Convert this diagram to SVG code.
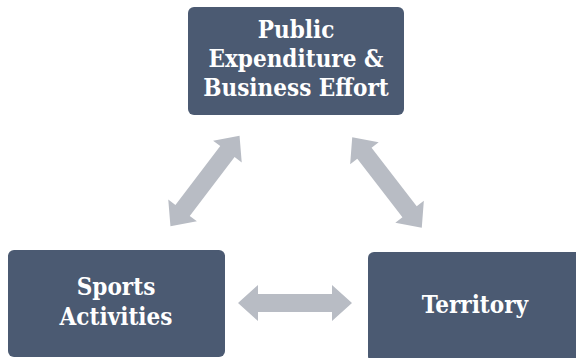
<svg xmlns="http://www.w3.org/2000/svg" width="576" height="358" viewBox="0 0 576 358">
  <style>
    .box { fill: #4b5a72; }
    .lbl { fill: #ffffff; font-family: 'DejaVu Serif Condensed', 'DejaVu Serif', serif; font-stretch: condensed; font-weight: bold; font-size: 24px; text-anchor: middle; }
    .arr { fill: #b8bcc4; }
  </style>
  <defs>
    <!-- double-headed block arrow, centred on the origin -->
    <polygon id="dbl" points="-57,0 -37,-18 -37,-9 37,-9 37,-18 57,0 37,18 37,9 -37,9 -37,18"/>
  </defs>
  <rect width="576" height="358" fill="#ffffff"/>
  <g id="connectors" class="arr">
    <use href="#dbl" transform="translate(205,181) rotate(-52.7)"/>
    <use href="#dbl" transform="translate(387,182.5) rotate(52.4)"/>
    <use href="#dbl" transform="translate(295,303)"/>
  </g>
  <g id="node-expenditure">
    <rect class="box" x="188" y="7" width="216" height="108" rx="6"/>
    <text class="lbl" x="296" y="38">Public</text>
    <text class="lbl" x="296" y="67">Expenditure &amp;</text>
    <text class="lbl" x="296" y="96">Business Effort</text>
  </g>
  <g id="node-sports">
    <rect class="box" x="8" y="250" width="217" height="107" rx="6"/>
    <text class="lbl" x="116" y="295">Sports</text>
    <text class="lbl" x="116" y="325">Activities</text>
  </g>
  <g id="node-territory">
    <rect class="box" x="368" y="252" width="214" height="110" rx="6"/>
    <text class="lbl" x="475" y="313">Territory</text>
  </g>
</svg>
